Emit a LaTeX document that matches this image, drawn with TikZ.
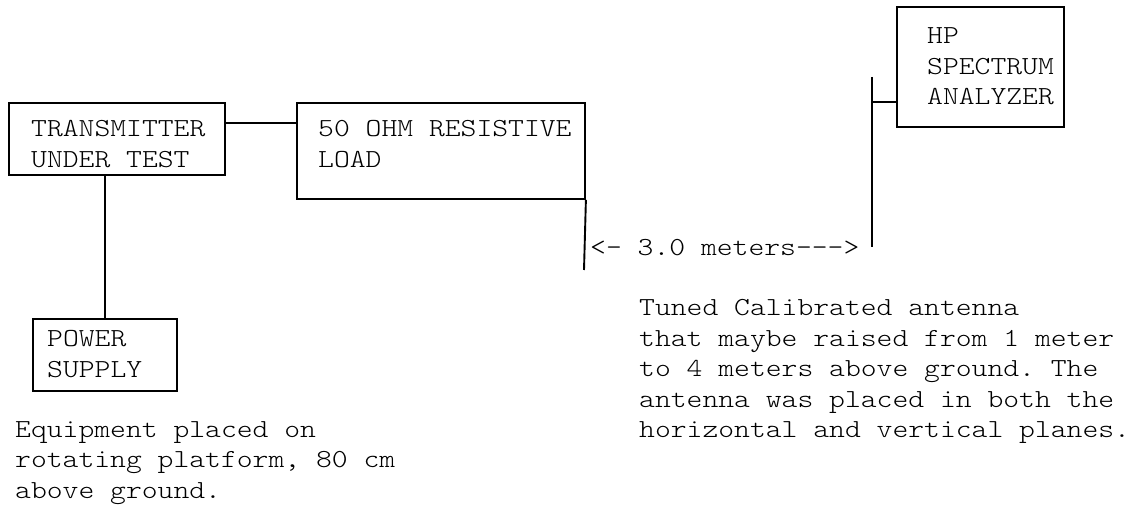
\documentclass[tikz,border=0pt]{standalone}
\usepackage{fontspec}
\setmonofont{lmmonolt10-regular.otf}[FakeStretch=1.16]
\newcommand\mylines[1]{\vtop{\baselineskip=30.5pt\lineskiplimit=-20pt #1}}
\begin{document}
\begin{tikzpicture}[x=1pt,y=-1pt,
  box/.style={draw, line width=1.9pt, inner sep=0pt, anchor=north west},
  txt/.style={anchor=base west, inner sep=0pt, font=\ttfamily\fontsize{26}{30.5}\selectfont},
  wire/.style={draw, line width=1.9pt}]
\useasboundingbox[fill=white] (0,0) rectangle (1141,510);
% boxes
\node[box, minimum width=216.3pt, minimum height=72.3pt] (trans) at (7.7,101.7) {};
\node[box, minimum width=288pt, minimum height=96pt] (load) at (296,102) {};
\node[box, minimum width=167pt, minimum height=120.3pt] (hp) at (896,5.7) {};
\node[box, minimum width=144.3pt, minimum height=72pt] (power) at (31.7,318) {};
% texts
\node[txt] (transtxt) at (31,137) {\mylines{\hbox{TRANSMITTER}\hbox{UNDER TEST}}};
\node[txt] (loadtxt) at (318,137) {\mylines{\hbox{50 OHM RESISTIVE}\hbox{LOAD}}};
\node[txt] (hptxt) at (927,44) {\mylines{\hbox{HP}\hbox{SPECTRUM}\hbox{ANALYZER}}};
\node[txt] (powertxt) at (47,347) {\mylines{\hbox{POWER}\hbox{SUPPLY}}};
\node[txt] (dist) at (590,256) {<- 3.0 meters--->};
\node[txt] (equip) at (15,437.5) {\mylines{\hbox{Equipment placed on}\hbox{rotating platform, 80 cm}\hbox{above ground.}}};
\node[txt] (tuned) at (639,316) {\mylines{\hbox{Tuned Calibrated antenna}\hbox{that maybe raised from 1 meter}\hbox{to 4 meters above ground. The}\hbox{antenna was placed in both the}\hbox{horizontal and vertical planes.}}};
% connectors
\coordinate (lk) at (0,123.3);
\coordinate (lbot) at (584,270);
\coordinate (anttop) at (872,77);
\coordinate (antbot) at (872,247);
\coordinate (hplk) at (0,102);
\draw[wire] (trans.east |- lk) -- (load.west |- lk);
\draw[wire] (power.north) -- (power.north |- trans.south);
\draw[wire] (load.south east) -- (lbot);
\draw[wire] (anttop) -- (antbot);
\draw[wire] (anttop |- hplk) -- (hp.west |- hplk);
\end{tikzpicture}
\end{document}
